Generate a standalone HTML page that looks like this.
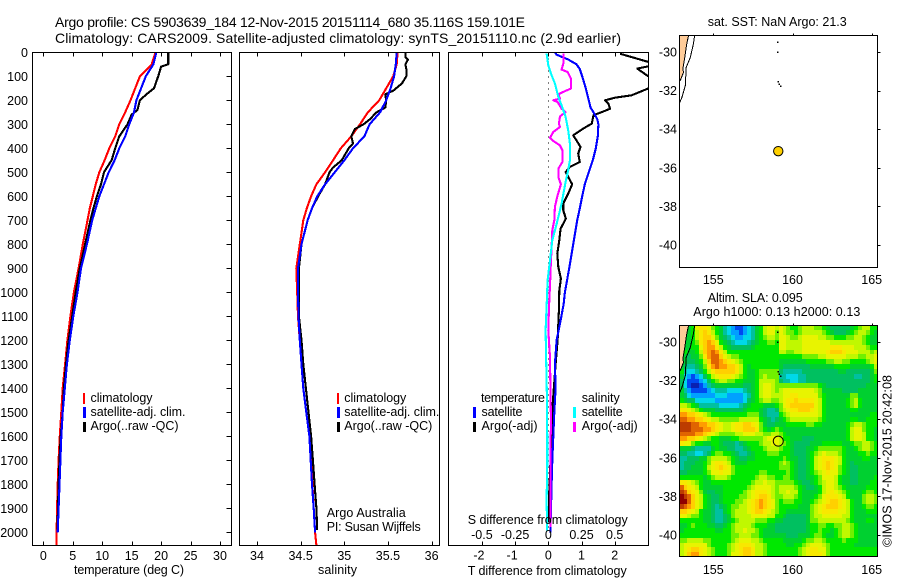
<!DOCTYPE html>
<html>
<head>
<meta charset="utf-8">
<title>Argo profile</title>
<style>
html,body{margin:0;padding:0;background:#fff;width:900px;height:580px;overflow:hidden}
svg{display:block}
text{font-family:"Liberation Sans",sans-serif;font-size:12.5px;fill:#000}
.line{fill:none;stroke-width:2.1;stroke-linejoin:round;shape-rendering:crispEdges}
.frame{fill:none;stroke:#000;stroke-width:1;shape-rendering:crispEdges}
.tick{stroke:#000;stroke-width:1;shape-rendering:crispEdges}
</style>
</head>
<body>
<svg id="chart" width="900" height="580" viewBox="0 0 900 580" xmlns="http://www.w3.org/2000/svg">
<defs>
<clipPath id="clip-temp"><rect x="32" y="52" width="200" height="494"/></clipPath>
<clipPath id="clip-sal"><rect x="239" y="52" width="201" height="494"/></clipPath>
<clipPath id="clip-diff"><rect x="448" y="52" width="201" height="494"/></clipPath>
<clipPath id="clip-map1"><rect x="679" y="35" width="199" height="233"/></clipPath>
<clipPath id="clip-map2"><rect x="679" y="325" width="199" height="232"/></clipPath>
</defs>

<text x="55" y="27" style="font-size:14px" textLength="470" lengthAdjust="spacing">Argo profile: CS 5903639_184 12-Nov-2015 20151114_680 35.116S 159.101E</text>
<text x="55" y="43" style="font-size:14px" textLength="566" lengthAdjust="spacing">Climatology: CARS2009. Satellite-adjusted climatology: synTS_20151110.nc (2.9d earlier)</text>

<g id="layer-heat" clip-path="url(#clip-map2)"></g>
<g id="layer-marks"></g>

<rect class="frame" x="32.5" y="52.5" width="199" height="493"/>
<rect class="frame" x="239.5" y="52.5" width="200" height="493"/>
<rect class="frame" x="448.5" y="52.5" width="200" height="493"/>
<rect class="frame" x="679.5" y="35.5" width="198" height="232"/>
<rect class="frame" x="679.5" y="325.5" width="198" height="231"/>

<g id="layer-axes"></g>

<text x="74" y="574" textLength="110" lengthAdjust="spacing">temperature (deg C)</text>
<text x="318" y="574" textLength="39" lengthAdjust="spacing">salinity</text>
<text x="467.7" y="524" textLength="160" lengthAdjust="spacing">S difference from climatology</text>
<text x="467.7" y="575" textLength="159" lengthAdjust="spacing">T difference from climatology</text>

<g>
<rect x="83" y="393" width="2" height="11" fill="#f00"/>
<rect x="83" y="407" width="3" height="11" fill="#00f"/>
<rect x="83" y="422" width="3" height="10" fill="#000"/>
<text x="90.5" y="402" textLength="62" lengthAdjust="spacing">climatology</text>
<text x="90.5" y="416" textLength="95" lengthAdjust="spacing">satellite-adj. clim.</text>
<text x="90.5" y="430" textLength="88" lengthAdjust="spacing">Argo(..raw -QC)</text>
</g>
<g>
<rect x="337" y="393" width="2" height="11" fill="#f00"/>
<rect x="337" y="407" width="3" height="11" fill="#00f"/>
<rect x="337" y="422" width="3" height="10" fill="#000"/>
<text x="344.3" y="402" textLength="62" lengthAdjust="spacing">climatology</text>
<text x="344.3" y="416" textLength="95" lengthAdjust="spacing">satellite-adj. clim.</text>
<text x="344.3" y="430" textLength="88" lengthAdjust="spacing">Argo(..raw -QC)</text>
</g>
<text x="326.7" y="517" textLength="79" lengthAdjust="spacing">Argo Australia</text>
<text x="326.7" y="531" textLength="94" lengthAdjust="spacing">PI: Susan Wijffels</text>

<g>
<text x="481" y="402" textLength="64" lengthAdjust="spacing">temperature</text>
<text x="481.5" y="416" textLength="41" lengthAdjust="spacing">satellite</text>
<text x="481.5" y="430" textLength="56" lengthAdjust="spacing">Argo(-adj)</text>
<rect x="473" y="407" width="3" height="11" fill="#00f"/>
<rect x="473" y="422" width="3" height="10" fill="#000"/>
<text x="581.7" y="402" textLength="38" lengthAdjust="spacing">salinity</text>
<text x="581.7" y="416" textLength="41" lengthAdjust="spacing">satellite</text>
<text x="581.7" y="430" textLength="56" lengthAdjust="spacing">Argo(-adj)</text>
<rect x="573" y="407" width="3" height="11" fill="#0ff"/>
<rect x="573" y="422" width="3" height="10" fill="#f0f"/>
</g>

<text x="707.7" y="26" textLength="139" lengthAdjust="spacing">sat. SST: NaN Argo: 21.3</text>
<text x="707.7" y="302" textLength="95" lengthAdjust="spacing">Altim. SLA: 0.095</text>
<text x="693.3" y="316" textLength="167" lengthAdjust="spacing">Argo h1000: 0.13 h2000: 0.13</text>
<text transform="translate(891.5,547) rotate(-90)" textLength="172" lengthAdjust="spacing">©IMOS 17-Nov-2015 20:42:08</text>
</svg>

<script>
// ---------- temperature panel (dbar, deg C) ----------
const tempClimPressure = [0,50,100,150,200,250,300,350,400,450,500,550,600,650,700,800,900,1000,1100,1200,1300,1400,1500,1600,1700,1800,1900,2000,2054];
const tempClimatology = [19.07,18.4,16.4,15.6,14.8,13.9,12.9,12.2,11.2,10.4,9.5,8.9,8.4,7.9,7.5,6.7,6.0,5.2,4.6,4.1,3.7,3.3,3.05,2.8,2.6,2.45,2.35,2.25,2.25];
const tempSatPressure = [0,50,100,150,200,250,300,350,400,450,500,550,600,650,700,800,900,1000,1100,1200,1300,1400,1500,1600,1700,1800,1900,2000];
const tempSatellite = [19.2,18.7,17.4,16.6,15.8,15.4,14.6,13.9,12.9,12.1,11.1,10.3,9.5,8.9,8.3,7.4,6.4,5.8,5.1,4.5,4.0,3.65,3.3,3.05,2.9,2.75,2.6,2.45];
const tempArgoPressure = [0,50,60,100,150,175,200,240,260,300,350,400,450,480,500,550,600,650,700,800,900,1000,1100,1200,1300,1400,1500,1600,1700,1800,1900,1990];
const tempArgo = [21.2,21.2,20,19.5,18.8,17.5,16.4,16,15,14.3,12.9,12.2,11.6,10.8,10.3,9.8,9.1,8.5,8,7.1,6.2,5.5,4.9,4.3,3.85,3.5,3.3,2.95,2.75,2.6,2.5,2.4];

// ---------- salinity panel ----------
const salClimPressure = [0,50,100,150,200,250,300,350,400,450,500,550,600,650,700,800,900,1000,1100,1200,1300,1400,1500,1600,1700,1800,1900,2000,2054];
const salClimatology = [35.61,35.6,35.56,35.48,35.4,35.27,35.18,35.08,34.96,34.87,34.78,34.68,34.62,34.57,34.53,34.49,34.45,34.46,34.47,34.49,34.51,34.53,34.565,34.6,34.62,34.635,34.65,34.665,34.68];
const salSatPressure = [0,50,100,150,200,250,300,350,400,450,500,550,600,650,700,800,900,1000,1100,1200,1300,1400,1500,1600,1700,1800,1900,2000];
const salSatellite = [35.6,35.59,35.57,35.53,35.48,35.41,35.29,35.23,35.1,35.0,34.89,34.78,34.69,34.63,34.58,34.51,34.47,34.47,34.475,34.49,34.51,34.53,34.565,34.6,34.615,34.63,34.65,34.665];
const salArgoPressure = [0,20,30,50,70,100,130,160,175,200,230,250,280,300,320,350,380,400,450,480,500,550,600,650,700,800,900,1000,1100,1200,1300,1400,1500,1600,1700,1800,1900,1990];
const salArgo = [35.7,35.7,35.73,35.7,35.71,35.71,35.66,35.56,35.47,35.48,35.47,35.37,35.29,35.22,35.12,35.08,35.1,35.05,34.97,34.87,34.83,34.78,34.7,34.63,34.58,34.51,34.48,34.48,34.48,34.51,34.53,34.56,34.59,34.62,34.64,34.66,34.68,34.69];

// ---------- difference panel ----------
const diffTSatPressure = [0,10,30,50,70,100,150,200,230,250,280,300,350,400,450,500,550,600,650,700,800,900,1000,1050,1133,1200,1300,1400,1500,1600,1700,1800,1900,2000];
const diffTSat = [0.2,0.25,0.6,0.85,0.95,1.02,1.13,1.22,1.27,1.36,1.48,1.51,1.49,1.43,1.34,1.22,1.1,1.02,0.95,0.87,0.75,0.63,0.5,0.46,0.35,0.25,0.2,0.22,0.18,0.15,0.12,0.1,0.08,0.06];
const diffTArgoPressure = [6,40,50,68,100,125,151,179,189,200,214,235,249,262,297,318,346,367,394,422,457,478,499,519,550,589,631,658,693,735,783,839,894,943,992,1075,1200,1300,1470,1620,1720,1830,1960];
const diffTArgo = [2.16,3.01,3.3,2.68,3.01,3.6,3.01,2.51,2.01,1.71,1.81,1.86,1.61,1.36,1.31,1.05,0.75,0.85,0.97,0.9,0.95,0.65,0.52,0.6,0.72,0.6,0.45,0.45,0.53,0.37,0.33,0.27,0.3,0.38,0.33,0.32,0.28,0.22,0.13,0.1,0.06,0.03,0.02];
const diffSSatPressure = [5,54,89,130,186,221,269,325,381,450,492,540,630,714,783,867,950,1061,1158,1311,1450,1589,1728,1867,1992];
const diffSSat = [-0.013,0,0.02,0.05,0.075,0.1,0.13,0.15,0.163,0.163,0.15,0.13,0.1,0.063,0.03,0.013,-0.005,-0.013,-0.02,-0.015,-0.01,-0.008,-0.008,-0.013,-0.008];
const diffSArgoPressure = [6,47,72,82,110,151,165,175,193,200,207,235,249,267,297,311,332,356,369,388,408,457,485,519,550,596,644,700,742,811,894,971,1061,1158,1270,1367,1547,1658,1853,1978];
const diffSArgo = [0.113,0.113,0.1,0.146,0.171,0.171,0.113,0.075,0.088,0.038,0.07,0.1,0.13,0.088,0.08,0.088,0.038,0.013,0.038,0.088,0.106,0.106,0.075,0.075,0.095,0.07,0.05,0.045,0.03,0.025,0.018,0.013,0.005,0,0.0125,0.015,0.02,0.015,0.015,0.015];

// ---------- axis tick labels ----------
const pressureTicks = [0,100,200,300,400,500,600,700,800,900,1000,1100,1200,1300,1400,1500,1600,1700,1800,1900,2000];
const tempTicks = [0,5,10,15,20,25,30];
const salTicks = [34,34.5,35,35.5,36];
const diffTTicks = [-2,-1,0,1,2];
const diffTTickLabels = ["-2","-1","0","1","2"];
const diffSTicks = [-0.5,-0.25,0,0.25,0.5];
const diffSTickLabels = ["-0.5","-0.25","0","0.25","0.5"];
const lonTicks = [155,160,165];
const latTicks = [-30,-32,-34,-36,-38,-40];
const latTickLabels = ["-30","-32","-34","-36","-38","-40"];

// ---------- map data (deg) ----------
const coastLon = [153.44,153.33,153.19,153.08,153.12,152.91,152.87];
const coastLat = [-29.145,-29.56,-30.34,-30.85,-31.06,-31.48,-31.5];
const isobathLon = [153.82,153.75,153.55,153.29,153.23,153.02,152.87];
const isobathLat = [-29.145,-29.56,-30.28,-30.8,-31.74,-32.36,-32.62];
const isletLon = [159.06,159.06,159.08,159.16,159.24];
const isletLat = [-29.47,-30,-31.54,-31.65,-31.76];
const floatLon = 159.101;
const floatLat = -35.116;

// ---------- SLA grid: colour level per 0.25-degree cell, north to south ----------
const slaGrid = [
[6,6,6,7,10,11,11,10,8,7,6,4,3,2,1,1,2,3,4,6,7,9,10,10,9,10,9,8,7,7,8,9,9,9,8,8,7,6,5,5,5,5,5,6,7,8,9,9,7,7],
[6,6,6,7,9,11,12,11,9,7,6,4,3,2,2,1,2,3,4,6,7,9,10,10,8,10,9,8,8,7,8,9,9,9,9,9,8,7,6,5,5,5,6,7,8,9,9,8,7,6],
[6,6,6,7,9,11,12,12,10,8,6,5,4,3,2,2,3,3,4,6,7,8,9,9,8,10,10,9,8,8,9,10,10,10,10,9,9,8,8,7,7,7,8,8,9,9,8,7,6,6],
[6,6,6,7,8,11,12,13,12,10,7,6,5,4,3,3,3,4,5,6,7,7,8,8,7,10,10,9,9,9,9,10,10,10,10,10,10,10,9,9,9,9,9,9,9,9,8,7,6,6],
[6,6,6,7,7,10,12,13,13,11,9,7,6,5,5,5,5,5,6,7,7,7,7,7,7,10,10,9,9,9,9,10,10,10,10,10,10,10,11,11,11,10,10,10,9,9,9,8,7,7],
[6,7,6,6,7,9,12,13,14,13,11,9,7,7,7,7,7,7,7,7,7,7,7,7,7,9,9,8,8,9,9,10,10,10,10,10,10,11,12,12,12,11,10,10,10,9,9,9,8,9],
[6,6,5,6,6,8,11,13,14,14,12,10,9,8,8,7,7,7,7,7,7,7,7,7,7,7,7,7,7,7,7,8,8,8,8,9,9,10,10,10,10,10,9,9,9,8,8,9,9,10],
[6,6,5,5,6,7,9,12,14,14,13,12,11,10,9,8,7,7,7,7,7,7,7,7,7,6,6,6,6,6,6,6,7,7,7,7,7,8,8,9,9,8,8,7,7,7,7,8,9,10],
[6,5,4,4,5,6,8,11,13,14,13,13,12,12,11,9,7,6,7,7,7,7,7,7,7,6,5,5,5,5,5,5,5,6,6,6,6,6,6,7,7,7,7,6,6,6,6,6,7,9],
[7,4,3,3,4,5,7,9,11,12,12,12,12,12,11,9,7,6,6,7,8,8,8,8,8,5,4,4,4,4,4,5,5,5,5,5,5,5,5,5,6,6,5,5,5,5,5,5,6,8],
[6,3,2,1,2,3,5,7,9,10,11,11,11,10,9,8,7,6,6,7,8,9,8,8,8,4,4,3,3,3,4,4,5,5,5,5,5,5,5,5,5,5,5,5,4,4,5,5,6,7],
[5,3,1,1,1,2,3,5,7,8,9,9,8,8,7,7,6,6,6,7,9,9,9,9,8,5,4,4,3,3,4,4,5,5,5,5,5,5,5,5,5,5,5,5,5,5,5,5,6,7],
[5,3,1,0,0,1,2,4,5,6,6,6,6,6,6,6,5,5,6,7,9,10,10,9,8,8,8,8,8,8,8,8,8,8,8,7,6,5,5,5,5,5,5,5,5,5,5,6,6,6],
[6,4,2,1,1,1,1,2,3,4,4,4,3,3,3,3,4,5,6,7,9,10,10,9,8,9,10,10,10,10,10,10,10,10,9,8,6,6,6,6,6,5,5,5,5,6,6,6,6,6],
[6,5,3,2,2,2,2,2,2,3,3,3,2,2,2,2,3,4,6,7,9,10,10,9,9,9,10,10,11,11,10,10,10,10,10,8,7,6,6,6,6,6,6,8,8,6,6,6,6,6],
[7,6,5,5,3,3,3,3,3,2,2,2,2,2,2,2,3,5,6,7,8,9,9,8,8,9,10,11,11,12,11,11,11,11,10,9,7,6,6,6,6,6,7,8,9,7,6,6,6,6],
[9,9,8,7,6,4,4,4,4,4,3,3,3,3,3,4,5,6,7,7,7,6,6,6,7,8,10,11,12,12,12,12,12,12,10,9,7,6,6,6,6,6,7,8,9,7,6,6,6,6],
[11,11,10,9,8,7,6,6,6,5,5,5,5,5,5,5,6,7,7,7,6,5,4,4,5,8,9,10,11,11,12,12,12,11,10,9,7,6,6,6,6,6,6,7,7,6,6,6,6,6],
[13,13,12,12,11,10,9,8,7,7,7,7,7,7,7,7,7,8,8,8,6,5,4,4,4,7,8,9,10,10,10,10,10,10,10,9,7,6,6,6,6,6,6,6,6,6,6,6,7,7],
[14,14,13,13,12,12,11,10,9,9,8,8,8,8,8,9,9,9,9,9,7,6,5,4,5,6,7,8,9,9,9,9,9,9,9,8,7,6,6,6,6,6,6,7,7,6,6,7,7,7],
[15,15,15,14,14,13,13,12,12,11,10,9,9,10,11,11,12,12,11,10,8,6,5,5,6,6,6,7,7,7,7,7,8,8,7,7,6,6,6,6,6,6,7,8,9,9,8,7,7,7],
[15,15,15,14,14,14,13,13,12,11,10,9,9,10,11,11,12,12,12,11,8,7,6,7,8,7,6,6,6,6,6,6,6,6,6,6,6,6,6,6,6,6,7,9,10,10,8,7,7,6],
[14,14,14,14,13,13,12,11,10,9,8,8,8,8,9,9,10,10,10,9,9,8,8,9,9,8,7,6,6,6,6,6,6,6,6,6,6,6,6,6,6,6,7,9,10,10,9,7,7,6],
[13,13,12,12,11,10,9,8,7,7,6,6,6,7,7,8,8,8,8,8,8,9,10,10,10,9,7,7,6,6,6,5,5,5,6,6,6,6,6,6,6,6,7,9,10,10,9,7,7,6],
[11,10,10,8,7,7,6,6,7,7,6,5,5,5,4,5,6,7,7,7,8,9,9,10,10,9,8,7,6,5,5,5,5,6,6,6,7,7,7,7,7,6,6,7,8,8,9,9,8,7],
[6,6,6,5,4,4,4,4,6,7,6,6,5,5,4,4,5,6,7,7,7,8,9,9,9,8,7,7,6,5,5,5,6,6,7,8,8,8,8,8,8,7,6,6,7,8,9,9,8,7],
[5,5,4,4,3,3,4,5,7,8,8,7,7,6,5,4,4,5,6,7,7,7,8,8,8,7,7,7,6,5,5,5,6,7,8,9,10,9,9,9,8,7,6,6,6,7,7,8,7,7],
[4,4,5,5,5,6,6,8,9,9,9,9,8,7,6,5,5,6,6,7,7,7,7,7,7,7,8,7,6,6,5,5,6,7,9,10,11,11,11,10,9,7,6,6,6,6,7,7,6,6],
[4,5,5,5,6,6,7,8,10,11,11,10,9,7,6,6,6,7,7,7,7,7,7,7,7,8,9,8,7,6,5,5,6,7,9,10,11,12,11,10,9,7,6,5,6,6,6,6,6,6],
[4,5,5,6,6,6,7,9,10,11,12,11,10,8,7,7,7,7,7,7,7,7,7,7,7,8,8,8,7,6,5,5,6,7,9,10,11,12,11,10,8,7,6,5,5,6,6,6,6,6],
[5,5,6,6,6,6,7,8,10,10,11,10,10,8,7,7,7,7,7,7,8,8,7,7,7,7,7,8,7,6,5,5,6,7,8,9,10,11,10,10,8,7,6,5,5,6,6,6,6,6],
[7,7,7,7,7,7,6,7,8,9,9,9,8,7,7,7,7,7,7,8,9,9,8,8,7,7,8,8,7,6,5,5,6,6,7,8,10,10,10,9,7,6,6,5,5,6,6,6,6,7],
[11,11,10,9,8,7,6,6,7,7,7,7,7,7,7,7,7,7,8,9,9,10,9,9,8,8,8,8,8,7,6,5,5,6,7,8,9,10,10,9,7,6,6,5,5,6,6,6,7,7],
[14,12,11,10,9,7,6,6,6,6,6,7,7,7,7,7,7,8,9,10,10,10,10,9,8,9,9,9,9,8,7,6,5,5,6,7,9,10,10,9,8,7,6,6,6,6,6,7,7,7],
[15,14,12,11,10,8,6,5,5,6,6,7,7,7,7,7,8,9,10,11,11,11,10,9,8,9,9,10,9,9,7,6,6,6,6,7,9,10,11,10,9,8,7,6,6,6,7,8,8,7],
[16,15,14,12,10,9,7,6,5,5,6,7,7,7,7,8,8,9,10,11,12,12,11,9,8,8,9,9,9,8,7,6,6,6,7,8,10,11,11,11,10,9,7,6,6,6,8,9,9,8],
[16,16,14,12,10,9,7,6,5,5,6,7,7,7,8,8,9,10,11,12,13,12,11,10,8,7,8,8,8,7,7,6,6,7,8,9,10,11,12,12,11,10,9,7,6,6,8,9,9,8],
[15,14,13,12,10,9,7,6,5,4,5,6,7,8,8,9,9,10,11,12,13,12,11,10,8,7,7,7,7,7,6,6,6,8,9,10,11,12,12,12,11,10,9,7,6,6,7,8,8,7],
[12,12,11,10,9,7,6,6,5,4,4,6,7,8,9,9,9,10,11,12,12,11,10,9,8,7,7,6,6,6,6,6,6,8,9,10,11,11,11,11,10,10,9,7,6,6,6,7,7,7],
[10,10,9,8,8,7,6,6,5,4,4,5,6,8,9,9,9,9,10,10,10,10,9,9,7,7,6,5,5,5,5,5,6,8,9,9,10,10,10,10,10,9,9,7,6,6,6,6,6,6],
[7,7,7,7,7,7,6,6,5,4,4,5,6,7,8,9,9,9,9,8,8,8,7,7,6,6,5,5,5,5,5,5,6,8,8,9,9,9,9,9,9,9,8,7,6,6,6,7,7,6],
[6,6,7,8,7,7,7,6,6,5,5,6,7,8,9,9,9,9,8,7,7,7,6,6,5,5,5,5,5,5,5,5,6,7,7,8,8,7,7,8,8,9,9,8,7,6,6,6,6,6],
[6,7,7,7,7,7,7,7,7,6,6,7,7,8,9,9,10,9,9,8,7,6,6,6,5,5,5,5,5,5,5,5,6,7,7,8,7,7,6,7,8,9,9,8,7,6,6,6,6,6],
[7,7,7,7,7,7,7,7,7,7,7,7,7,8,8,9,9,9,8,8,7,6,6,6,6,6,6,5,5,5,6,6,6,7,8,8,7,6,6,7,8,9,9,8,7,6,6,6,6,6],
[8,8,9,9,9,9,8,8,7,7,7,7,7,8,9,10,10,10,9,9,8,7,7,7,7,7,6,6,6,6,6,7,8,8,9,9,8,7,7,7,7,8,7,7,7,6,6,6,6,6],
[9,10,10,10,10,10,10,8,7,7,7,7,8,9,10,11,11,11,10,9,9,8,7,7,7,7,7,6,6,7,7,8,9,10,10,10,9,8,7,7,7,7,7,7,6,6,6,6,6,6],
[9,10,11,12,12,11,10,9,8,7,7,7,8,9,10,11,12,12,11,9,9,8,7,7,7,7,7,7,7,7,8,9,10,11,11,10,10,8,7,7,7,7,7,7,7,7,7,7,7,7],
[9,10,12,13,13,11,10,9,8,7,7,7,8,10,10,11,12,12,11,9,9,8,7,7,7,7,7,7,7,7,8,9,10,11,11,11,10,8,7,7,7,7,7,7,7,7,7,7,7,7]
];
const slaPalette = ["#0a20b0","#0048f0","#00a0ff","#00d8e8","#00c0a0","#00c060","#00d030","#00e800","#70f000","#c0f800","#e8f400","#f8e800","#ffd000","#ff9c00","#e06400","#bc3c00","#900000"];

// ---------- scales ----------
const svg = document.getElementById('chart');
const marks = document.getElementById('layer-marks');
const axes = document.getElementById('layer-axes');
const heat = document.getElementById('layer-heat');
const NS = 'http://www.w3.org/2000/svg';

function make(tag, attrs, parent) {
  const node = document.createElementNS(NS, tag);
  for (const k in attrs) node.setAttribute(k, attrs[k]);
  parent.appendChild(node);
  return node;
}
const yP = p => 52.3 + p * 0.24;
const xTemp = t => 43.3 + t * 5.89;
const xSal = s => 257 + (s - 34) * 87.3;
const xDiffT = d => 548.3 + d * 33.2;
const xDiffS = s => 548.3 + s * 132.8;
const xLon = lon => 713.3 + (lon - 155) * 15.84;
const yLat1 = lat => 52 + (-30 - lat) * 19.3;
const yLat2 = lat => 342 + (-30 - lat) * 19.3;

function profile(pressures, values, xFn, color, clip, name) {
  const pts = pressures.map((p, i) => xFn(values[i]).toFixed(1) + ',' + yP(p).toFixed(1)).join(' ');
  const line = make('polyline', {class:'line', points:pts, stroke:color, 'clip-path':'url(#' + clip + ')'}, marks);
  
  
}

// profiles
profile(tempClimPressure, tempClimatology, xTemp, '#f00', 'clip-temp', 'temperature-climatology-line');
profile(tempArgoPressure, tempArgo, xTemp, '#000', 'clip-temp', 'temperature-argo-line');
profile(tempSatPressure, tempSatellite, xTemp, '#00f', 'clip-temp', 'temperature-satellite-line');
profile(salClimPressure, salClimatology, xSal, '#f00', 'clip-sal', 'salinity-climatology-line');
profile(salArgoPressure, salArgo, xSal, '#000', 'clip-sal', 'salinity-argo-line');
profile(salSatPressure, salSatellite, xSal, '#00f', 'clip-sal', 'salinity-satellite-line');

const zeroLine = make('line', {x1:xDiffT(0), x2:xDiffT(0), y1:yP(0), y2:yP(2000), stroke:'#000', 'stroke-width':1, 'stroke-dasharray':'1 5', 'shape-rendering':'crispEdges'}, marks);



profile(diffTArgoPressure, diffTArgo, xDiffT, '#000', 'clip-diff', 'diff-temperature-argo-line');
profile(diffTSatPressure, diffTSat, xDiffT, '#00f', 'clip-diff', 'diff-temperature-satellite-line');
profile(diffSArgoPressure, diffSArgo, xDiffS, '#f0f', 'clip-diff', 'diff-salinity-argo-line');
profile(diffSSatPressure, diffSSat, xDiffS, '#0ff', 'clip-diff', 'diff-salinity-satellite-line');

// heatmap
const lonStart = 152.87;
const latStart = -29.145;
const heatBg = make('rect', {x:679, y:325, width:199, height:232, fill:'#00e800'}, heat);


slaGrid.forEach((row, r) => {
  row.forEach((level, c) => {
    const x0 = Math.round(xLon(lonStart + c * 0.25));
    const x1 = Math.round(xLon(lonStart + (c + 1) * 0.25));
    const y0 = Math.round(yLat2(latStart - r * 0.25));
    const y1 = Math.round(yLat2(latStart - (r + 1) * 0.25));
    const cell = make('rect', {x:x0, y:y0, width:x1 - x0, height:y1 - y0, fill:slaPalette[level], 'shape-rendering':'crispEdges'}, heat);
    
    
  });
});

// maps
function drawMap(yLat, clip, label) {
  const land = make('polygon', {
    points: coastLon.map((lon, i) => xLon(lon).toFixed(1) + ',' + yLat(coastLat[i]).toFixed(1)).join(' ') + ' ' + xLon(lonStart).toFixed(1) + ',' + yLat(latStart).toFixed(1),
    fill:'#ffcc99', stroke:'#000', 'stroke-width':1, 'clip-path':'url(#' + clip + ')', 'shape-rendering':'crispEdges'}, marks);
  
  
  const iso = make('polyline', {
    points: isobathLon.map((lon, i) => xLon(lon).toFixed(1) + ',' + yLat(isobathLat[i]).toFixed(1)).join(' '),
    fill:'none', stroke:'#000', 'stroke-width':1, 'clip-path':'url(#' + clip + ')', 'shape-rendering':'crispEdges'}, marks);
  
  
  isletLon.forEach((lon, i) => {
    const dot = make('rect', {x:(xLon(lon) - 0.5).toFixed(1), y:(yLat(isletLat[i]) - 0.5).toFixed(1), width:1.5, height:1.5, fill:'#000', 'shape-rendering':'crispEdges'}, marks);
    
    
  });
}
drawMap(yLat1, 'clip-map1', 'sst-map');
drawMap(yLat2, 'clip-map2', 'sla-map');

const floatTop = make('circle', {cx:xLon(floatLon), cy:yLat1(floatLat) + 0.4, r:4.7, fill:'#ffd000', stroke:'#000', 'stroke-width':1}, marks);


const floatBottom = make('circle', {cx:xLon(floatLon), cy:yLat2(floatLat) + 0.4, r:5, fill:'none', stroke:'#000', 'stroke-width':1}, marks);



// axes
function tick(x1, y1, x2, y2, name) {
  const t = make('line', {class:'tick', x1:Math.round(x1) + 0.5, y1:Math.round(y1) + 0.5, x2:Math.round(x2) + 0.5, y2:Math.round(y2) + 0.5}, axes);
  
  
}
function label(str, x, y, anchor, name) {
  const t = make('text', {x:x, y:y, 'text-anchor':anchor}, axes);
  t.textContent = str;
  
  
}
pressureTicks.forEach(p => {
  tick(226, yP(p), 231, yP(p), 'pressure-tick');
  label(String(p), 28, yP(p) + 4.5, 'end', 'pressure-tick-label');
});
tempTicks.forEach(t => {
  tick(xTemp(t), 52, xTemp(t), 56, 'temperature-top-tick');
  tick(xTemp(t), 541, xTemp(t), 545, 'temperature-bottom-tick');
  label(String(t), xTemp(t), 560, 'middle', 'temperature-tick-label');
});
salTicks.forEach(s => {
  tick(xSal(s), 52, xSal(s), 56, 'salinity-top-tick');
  tick(xSal(s), 541, xSal(s), 545, 'salinity-bottom-tick');
  label(String(s), xSal(s), 560, 'middle', 'salinity-tick-label');
});
diffTTicks.forEach((d, i) => {
  tick(xDiffT(d), 52, xDiffT(d), 56, 'difference-top-tick');
  tick(xDiffT(d), 541, xDiffT(d), 545, 'difference-bottom-tick');
  label(diffTTickLabels[i], xDiffT(d) - (d < 0 ? 3 : 0), 559.5, 'middle', 'difference-t-tick-label');
});
diffSTicks.forEach((s, i) => {
  label(diffSTickLabels[i], xDiffS(s), 539, 'middle', 'difference-s-tick-label');
});
lonTicks.forEach(lon => {
  tick(xLon(lon), 33, xLon(lon), 35, 'map-top-tick');
  tick(xLon(lon), 323, xLon(lon), 325, 'map-top-tick');
  label(String(lon), xLon(lon), 284, 'middle', 'sst-map-lon-label');
  label(String(lon), xLon(lon), 574, 'middle', 'sla-map-lon-label');
});
latTicks.forEach((lat, i) => {
  tick(877, yLat1(lat), 880, yLat1(lat), 'map-right-tick');
  tick(877, yLat2(lat), 880, yLat2(lat), 'map-right-tick');
  label(latTickLabels[i], 677, yLat1(lat) + 4.5, 'end', 'sst-map-lat-label');
  label(latTickLabels[i], 677, yLat2(lat) + 4.5, 'end', 'sla-map-lat-label');
});
</script>
</body>
</html>
